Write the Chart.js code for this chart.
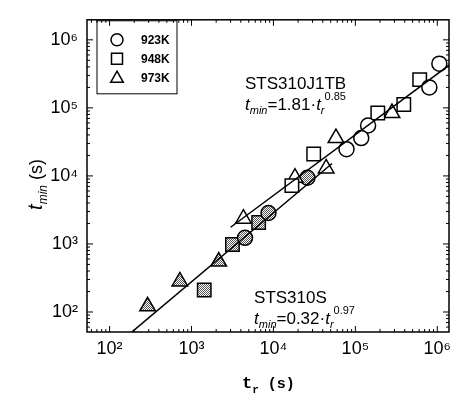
<!DOCTYPE html>
<html>
<head>
<meta charset="utf-8">
<script src="https://cdn.jsdelivr.net/npm/chart.js@4/dist/chart.umd.min.js"></script>
<style>
  body { margin: 0; background: #fff; }
  #wrap { width: 460px; height: 400px; }
</style>
</head>
<body>
<div id="wrap"><canvas id="chart" width="460" height="400"></canvas></div>
<script>
// tick values and labels
const decades = [1e2, 1e3, 1e4, 1e5, 1e6];
const tickLabels = ["10²", "10³", "10⁴", "10⁵", "10⁶"];

// STS310J1TB (open symbols) [t_r, t_min]
const j1tbCircles = [[1.06e6, 4.47e5], [8.0e5, 2.0e5], [1.43e5, 5.5e4], [1.18e5, 3.6e4], [7.8e4, 2.47e4]];
const j1tbSquares = [[6.1e5, 2.6e5], [3.9e5, 1.12e5], [1.88e5, 8.4e4], [3.1e4, 2.1e4], [1.68e4, 7.2e3]];
const j1tbTriangles = [[2.8e5, 8.4e4], [5.8e4, 3.6e4], [4.4e4, 1.29e4], [1.83e4, 9.4e3], [4.3e3, 2.35e3]];

// STS310S (shaded symbols)
const s310Circles = [[4.5e3, 1.23e3], [8.7e3, 2.85e3], [2.6e4, 9.4e3]];
const s310Squares = [[1.43e3, 210], [3.16e3, 980], [6.6e3, 2.07e3]];
const s310Triangles = [[291, 121], [720, 281], [2.15e3, 551]];

// fitted lines
const j1tbLine = [[3.0e3, 1.76e3], [1.6e6, 4.8e5]];
const s310Line = [[188, 51], [5.2e4, 1.52e4]];

const legendItems = ["923K", "948K", "973K"];

const pts = (arr) => arr.map(([x, y]) => ({ x, y }));

// grey dotted fill
const pc = document.createElement("canvas");
pc.width = 2;
pc.height = 2;
const pctx = pc.getContext("2d");
pctx.fillStyle = "#fff";
pctx.fillRect(0, 0, 2, 2);
pctx.fillStyle = "#555";
pctx.fillRect(0, 0, 1, 1);
pctx.fillRect(1, 1, 1, 1);
const shade = document.getElementById("chart").getContext("2d").createPattern(pc, "repeat");

function marker(data, style, fill, r) {
  return {
    type: "scatter",
    data: pts(data),
    pointStyle: style,
    pointRadius: r,
    pointBackgroundColor: fill,
    pointBorderColor: "#000",
    pointBorderWidth: 1.5,
    order: 2,
  };
}

function fitLine(data) {
  return {
    type: "line",
    data: pts(data),
    borderColor: "#000",
    borderWidth: 1.5,
    pointRadius: 0,
    fill: false,
    order: 1,
  };
}

function drawShape(ctx, style, x, y, r) {
  ctx.beginPath();
  if (style === "circle") {
    ctx.arc(x, y, r, 0, Math.PI * 2);
  } else if (style === "rect") {
    ctx.rect(x - r, y - r, 2 * r, 2 * r);
  } else {
    ctx.moveTo(x, y - r * 1.1);
    ctx.lineTo(x + r * 1.05, y + r * 0.75);
    ctx.lineTo(x - r * 1.05, y + r * 0.75);
    ctx.closePath();
  }
  ctx.stroke();
}

// draws sequence of [text, font, dy] pieces
function drawRich(ctx, x, y, parts) {
  let cx = x;
  parts.forEach(([t, font, dy]) => {
    ctx.font = font;
    ctx.fillText(t, cx, y + dy);
    cx += ctx.measureText(t).width;
  });
}

const decor = {
  id: "decor",
  afterDraw(chart) {
    const { ctx, chartArea: a, scales } = chart;
    const xs = scales.x, ys = scales.y;
    ctx.save();
    ctx.strokeStyle = "#000";
    ctx.fillStyle = "#000";

    // frame
    ctx.lineWidth = 1.5;
    ctx.strokeRect(a.left, a.top, a.right - a.left, a.bottom - a.top);

    // inward ticks
    ctx.lineWidth = 1;
    ctx.beginPath();
    for (let e = 1; e <= 6; e++) {
      for (let m = 1; m <= 9; m++) {
        const v = m * Math.pow(10, e);
        const len = m === 1 ? 6 : 3;
        if (v >= xs.min && v <= xs.max) {
          const px = xs.getPixelForValue(v);
          ctx.moveTo(px, a.bottom); ctx.lineTo(px, a.bottom - len);
          ctx.moveTo(px, a.top); ctx.lineTo(px, a.top + len);
        }
        if (v >= ys.min && v <= ys.max) {
          const py = ys.getPixelForValue(v);
          ctx.moveTo(a.left, py); ctx.lineTo(a.left + len, py);
          ctx.moveTo(a.right, py); ctx.lineTo(a.right - len, py);
        }
      }
    }
    ctx.stroke();

    // legend
    const lx = a.left + 10, ly = a.top + 1;
    ctx.lineWidth = 1;
    ctx.strokeRect(lx, ly, 80, 73);
    const styles = ["circle", "rect", "triangle"];
    ctx.lineWidth = 1.5;
    ctx.textBaseline = "middle";
    legendItems.forEach((lab, i) => {
      const yy = ly + 19 + i * 19;
      drawShape(ctx, styles[i], lx + 20, yy, styles[i] === "rect" ? 5.5 : 6);
      ctx.font = "bold 12px 'Liberation Sans', Arial, sans-serif";
      ctx.fillText(lab, lx + 44, yy + 1);
    });

    // annotations
    ctx.textBaseline = "alphabetic";
    const big = "17px 'Liberation Sans', Arial, sans-serif";
    const it = "italic 17px 'Liberation Sans', Arial, sans-serif";
    const sm = "italic 11px 'Liberation Sans', Arial, sans-serif";
    const sup = "11px 'Liberation Sans', Arial, sans-serif";

    let ax = xs.getPixelForValue(4.5e3), ay = ys.getPixelForValue(1.9e5);
    ctx.font = big;
    ctx.fillText("STS310J1TB", ax, ay);
    drawRich(ctx, ax, ay + 21, [["t", it, 0], ["min", sm, 4], ["=1.81·", big, 0], ["t", it, 0], ["r", sm, 4], ["0.85", sup, -10]]);

    ax = xs.getPixelForValue(5.8e3); ay = ys.getPixelForValue(135);
    ctx.font = big;
    ctx.fillText("STS310S", ax, ay);
    drawRich(ctx, ax, ay + 21, [["t", it, 0], ["min", sm, 4], ["=0.32·", big, 0], ["t", it, 0], ["r", sm, 4], ["0.97", sup, -10]]);

    // axis titles
    ctx.save();
    ctx.translate(42, (a.top + a.bottom) / 2 + 6);
    ctx.rotate(-Math.PI / 2);
    ctx.textBaseline = "alphabetic";
    drawRich(ctx, -28, 0, [["t", "italic 20px 'Liberation Sans', Arial, sans-serif", 0], ["min", "italic 12px 'Liberation Sans', Arial, sans-serif", 5], [" (s)", "18px 'Liberation Sans', Arial, sans-serif", 0]]);
    ctx.restore();

    drawRich(ctx, (a.left + a.right) / 2 - 26, 388, [["t", "bold 17px 'Liberation Mono', monospace", 0], ["r", "bold 11px 'Liberation Mono', monospace", 5], [" (s)", "bold 15px 'Liberation Mono', monospace", 0]]);

    ctx.restore();
  },
};

new Chart(document.getElementById("chart"), {
  data: {
    datasets: [
      marker(j1tbCircles, "circle", "#fff", 7.5),
      marker(j1tbSquares, "rect", "#fff", 9.5),
      marker(j1tbTriangles, "triangle", "#fff", 9),
      marker(s310Circles, "circle", shade, 7.5),
      marker(s310Squares, "rect", shade, 9.5),
      marker(s310Triangles, "triangle", shade, 9),
      fitLine(j1tbLine),
      fitLine(s310Line),
    ],
  },
  options: {
    responsive: false,
    animation: false,
    layout: { padding: { top: 4, right: 2, left: 0, bottom: 0 } },
    plugins: { legend: { display: false }, tooltip: { enabled: false } },
    scales: {
      x: {
        type: "logarithmic",
        min: 53,
        max: 1.39e6,
        afterBuildTicks: (s) => { s.ticks = decades.map((v) => ({ value: v })); },
        afterFit: (s) => { s.height = 68; },
        grid: { display: false, drawTicks: false },
        border: { display: false },
        ticks: {
          autoSkip: false,
          maxRotation: 0,
          padding: 6,
          color: "#000",
          font: { family: "'Liberation Sans', Arial, sans-serif", size: 18 },
          callback: (v, i) => tickLabels[i],
        },
      },
      y: {
        type: "logarithmic",
        min: 50.8,
        max: 1.97e6,
        afterBuildTicks: (s) => { s.ticks = decades.map((v) => ({ value: v })); },
        afterFit: (s) => { s.width = 87; },
        grid: { display: false, drawTicks: false },
        border: { display: false },
        ticks: {
          autoSkip: false,
          padding: 9,
          color: "#000",
          font: { family: "'Liberation Sans', Arial, sans-serif", size: 18 },
          callback: (v, i) => tickLabels[i],
        },
      },
    },
  },
  plugins: [decor],
});
</script>
</body>
</html>
